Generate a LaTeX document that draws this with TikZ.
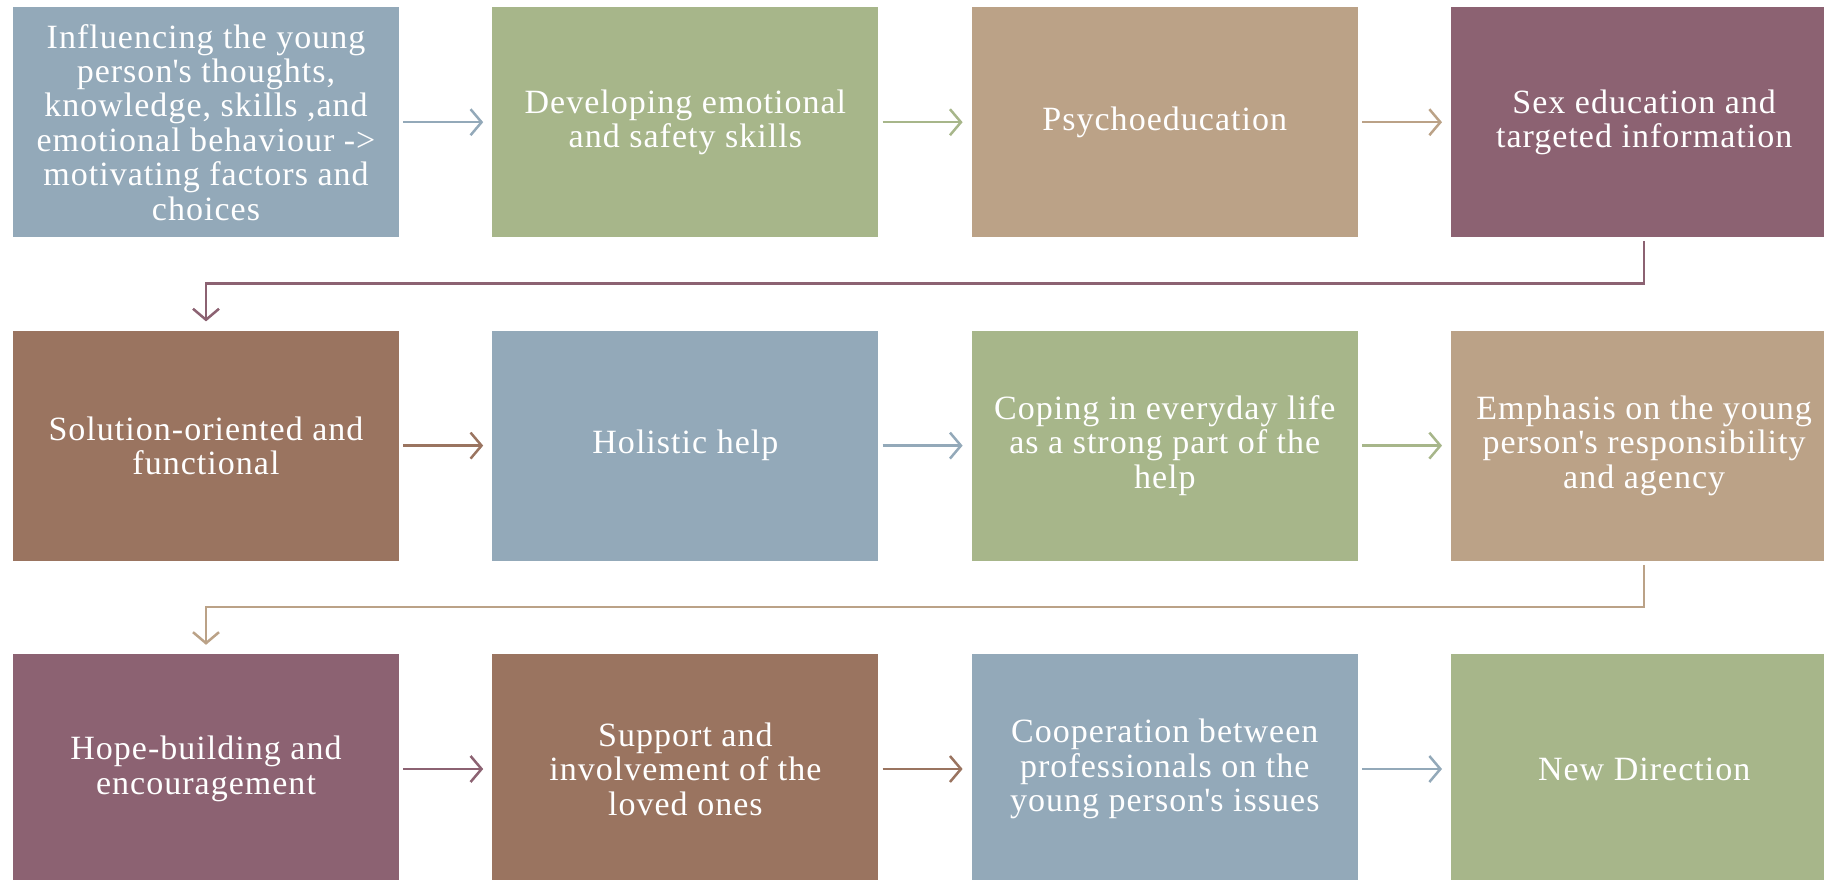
\documentclass[tikz,border=0pt]{standalone}
\usepackage{fontspec}
\setmainfont{Liberation Serif}[LetterSpace=3]
\usepackage{xcolor}
\usepackage{tikz}
\usetikzlibrary{arrows.meta,positioning}

\definecolor{slate}{HTML}{93A9B9}
\definecolor{sage}{HTML}{A7B68A}
\definecolor{sand}{HTML}{BBA287}
\definecolor{plum}{HTML}{8C6272}
\definecolor{clay}{HTML}{9A7460}

\newcommand{\ap}{\textquotesingle}

\begin{document}
\begin{tikzpicture}[node distance=93pt, auto,
    block/.style={rectangle, text=white, inner sep=0pt, align=center,
        minimum width=386pt, minimum height=230pt,
        font=\fontsize{34}{34.4}\selectfont},
    arrow/.style={-{Straight Barb[length=11pt,width=26pt,line width=2.5pt]}, line width=2.5pt},
    flow/.style={arrow, shorten <=4pt, shorten >=9pt}]

    \useasboundingbox (0,0) rectangle (1824pt,-879pt);

    % row 1
    \node[block, fill=slate, anchor=north west] (infl) at (12.8pt,-7pt) {Influencing the young\\person\ap s thoughts,\\knowledge, skills ,and\\emotional behaviour ->\\motivating factors and\\choices};
    \node[block, fill=sage, right=of infl] (develop) {Developing emotional\\and safety skills};
    \node[block, fill=sand, right=of develop] (psycho) {Psychoeducation};
    \node[block, fill=plum, right=of psycho] (sexed) {Sex education and\\targeted information};

    % row 2
    \node[block, fill=clay, below=of infl] (solution) {Solution-oriented and\\functional};
    \node[block, fill=slate, right=of solution] (holistic) {Holistic help};
    \node[block, fill=sage, right=of holistic] (coping) {Coping in everyday life\\as a strong part of the\\help};
    \node[block, fill=sand, right=of coping] (emphasis) {Emphasis on the young\\person\ap s responsibility\\and agency};

    % row 3
    \node[block, fill=plum, below=of solution] (hope) {Hope-building and\\encouragement};
    \node[block, fill=clay, right=of hope] (support) {Support and\\involvement of the\\loved ones};
    \node[block, fill=slate, right=of support] (coop) {Cooperation between\\professionals on the\\young person\ap s issues};
    \node[block, fill=sage, right=of coop] (newdir) {New Direction};

    \draw[flow, slate] (infl) -- (develop);
    \draw[flow, sage] (develop) -- (psycho);
    \draw[flow, sand] (psycho) -- (sexed);
    \draw[flow, plum] (sexed.south) -- ++(0,-46pt) -| (solution.north);

    \draw[flow, clay] (solution) -- (holistic);
    \draw[flow, slate] (holistic) -- (coping);
    \draw[flow, sage] (coping) -- (emphasis);
    \draw[flow, sand] (emphasis.south) -- ++(0,-46pt) -| (hope.north);

    \draw[flow, plum] (hope) -- (support);
    \draw[flow, clay] (support) -- (coop);
    \draw[flow, slate] (coop) -- (newdir);

\end{tikzpicture}
\end{document}
